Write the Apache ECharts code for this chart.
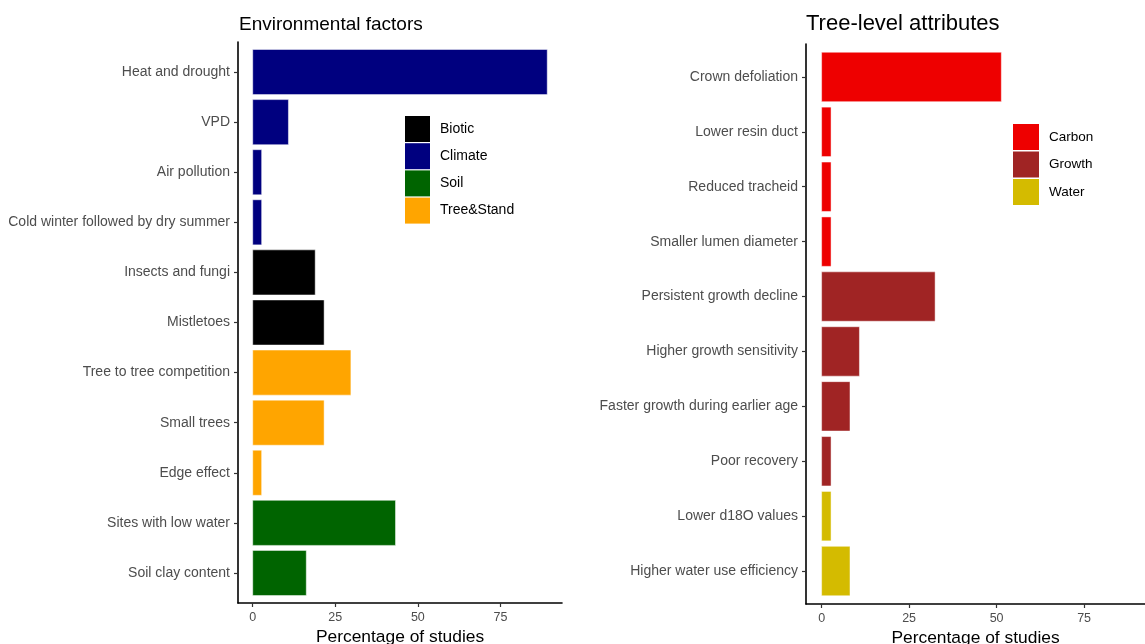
<!DOCTYPE html>
<html>
<head>
<meta charset="utf-8">
<title>Environmental factors and tree-level attributes</title>
<script src="https://cdn.jsdelivr.net/npm/echarts@6/dist/echarts.min.js"></script>
<style>
  html, body { margin: 0; padding: 0; background: #ffffff; }
  #chart { width: 1145px; height: 644px; }
</style>
</head>
<body>
<div id="chart"></div>
<script>
// Left panel: environmental factors (percentage of studies)
const envCategories = [
  'Heat and drought', 'VPD', 'Air pollution', 'Cold winter followed by dry summer',
  'Insects and fungi', 'Mistletoes', 'Tree to tree competition', 'Small trees',
  'Edge effect', 'Sites with low water', 'Soil clay content'
];
const envValues = [89.19, 10.81, 2.70, 2.70, 18.92, 21.62, 29.73, 21.62, 2.70, 43.24, 16.22];
const envGroups = ['Climate', 'Climate', 'Climate', 'Climate', 'Biotic', 'Biotic',
  'Tree&Stand', 'Tree&Stand', 'Tree&Stand', 'Soil', 'Soil'];
const envGroupNames = ['Biotic', 'Climate', 'Soil', 'Tree&Stand'];
const envGroupColors = ['#000000', '#00007f', '#006400', '#ffa500'];

// Right panel: tree-level attributes (percentage of studies)
const treeCategories = [
  'Crown defoliation', 'Lower resin duct', 'Reduced tracheid', 'Smaller lumen diameter',
  'Persistent growth decline', 'Higher growth sensitivity', 'Faster growth during earlier age',
  'Poor recovery', 'Lower d18O values', 'Higher water use efficiency'
];
const treeValues = [51.35, 2.70, 2.70, 2.70, 32.43, 10.81, 8.11, 2.70, 2.70, 8.11];
const treeGroups = ['Carbon', 'Carbon', 'Carbon', 'Carbon', 'Growth', 'Growth', 'Growth',
  'Growth', 'Water', 'Water'];
const treeGroupNames = ['Carbon', 'Growth', 'Water'];
const treeGroupColors = ['#ee0000', '#a02424', '#d4bb00'];

const xTicks = [0, 25, 50, 75];
const FONT = '"Liberation Sans", Arial, Helvetica, sans-serif';

// Horizontal bar drawn through the axes' own coordinate mapping
function renderBar(params, api) {
  const idx = api.value(1);
  const start = api.coord([0, idx]);
  const end = api.coord([api.value(0), idx]);
  const h = api.size([0, 0.9])[1];
  return {
    type: 'rect',
    shape: { x: start[0], y: start[1] - h / 2, width: end[0] - start[0], height: h },
    style: { fill: api.visual('color'), stroke: 'rgba(255,255,255,0.8)', lineWidth: 0.6 }
  };
}

function buildSeries(categories, values, groups, names, colors, axisIndex) {
  return names.map((name, gi) => ({
    type: 'custom',
    name: name,
    xAxisIndex: axisIndex,
    yAxisIndex: axisIndex,
    itemStyle: { color: colors[gi] },
    renderItem: renderBar,
    encode: { x: 0, y: 1 },
    data: values
      .map((v, i) => [v, i + 1, groups[i]])
      .filter(d => d[2] === name)
      .map(d => [d[0], d[1]])
  }));
}

function valueAxis(gridIndex, min, max) {
  return {
    type: 'value',
    gridIndex: gridIndex,
    min: min,
    max: max,
    name: 'Percentage of studies',
    nameLocation: 'middle',
    nameGap: 22,
    nameTextStyle: { fontFamily: FONT, fontSize: 17.4, color: '#000000', verticalAlign: 'top' },
    axisLine: { show: true, onZero: false, lineStyle: { color: '#000000', width: 1.6 } },
    axisTick: { show: true, length: 4, customValues: xTicks, lineStyle: { color: '#333333', width: 1.2 } },
    axisLabel: { customValues: xTicks, fontFamily: FONT, fontSize: 12.5, color: '#4d4d4d', margin: 8 },
    splitLine: { show: false }
  };
}

function categoryAxis(gridIndex, categories) {
  const idx = categories.map((c, i) => i + 1);
  return {
    type: 'value',
    gridIndex: gridIndex,
    inverse: true,
    min: 0.4,
    max: categories.length + 0.6,
    axisLine: { show: true, onZero: false, lineStyle: { color: '#000000', width: 1.6 } },
    axisTick: { show: true, length: 4, customValues: idx, lineStyle: { color: '#333333', width: 1.2 } },
    axisLabel: {
      customValues: idx,
      fontFamily: FONT, fontSize: 14, color: '#4d4d4d', margin: 8,
      formatter: v => categories[Math.round(v) - 1] || ''
    },
    splitLine: { show: false }
  };
}

const chart = echarts.init(document.getElementById('chart'), null, { renderer: 'canvas' });

chart.setOption({
  backgroundColor: '#ffffff',
  animation: false,
  title: [
    { text: 'Environmental factors', left: 239, top: 15, padding: 0,
      textStyle: { fontFamily: FONT, fontSize: 19, fontWeight: 'normal', color: '#000000' } },
    { text: 'Tree-level attributes', left: 806, top: 13, padding: 0,
      textStyle: { fontFamily: FONT, fontSize: 22, fontWeight: 'normal', color: '#000000' } }
  ],
  legend: [
    { data: envGroupNames, orient: 'vertical', left: 405, top: 116, padding: 0,
      icon: 'rect', itemWidth: 25, itemHeight: 26, itemGap: 1.2,
      textStyle: { fontFamily: FONT, fontSize: 14, color: '#000000', padding: [0, 0, 0, 5] } },
    { data: treeGroupNames, orient: 'vertical', left: 1013, top: 124, padding: 0,
      icon: 'rect', itemWidth: 26, itemHeight: 26, itemGap: 1.5,
      textStyle: { fontFamily: FONT, fontSize: 13.5, color: '#000000', padding: [0, 0, 0, 5] } }
  ],
  grid: [
    { left: 238, width: 324, top: 42, height: 561, outerBoundsMode: 'none', containLabel: false },
    { left: 806, right: 0, top: 44, height: 560, outerBoundsMode: 'none', containLabel: false }
  ],
  xAxis: [valueAxis(0, -4.46, 93.66), valueAxis(1, -4.46, 92.4)],
  yAxis: [categoryAxis(0, envCategories), categoryAxis(1, treeCategories)],
  series: [
    ...buildSeries(envCategories, envValues, envGroups, envGroupNames, envGroupColors, 0),
    ...buildSeries(treeCategories, treeValues, treeGroups, treeGroupNames, treeGroupColors, 1)
  ]
});
</script>
</body>
</html>
